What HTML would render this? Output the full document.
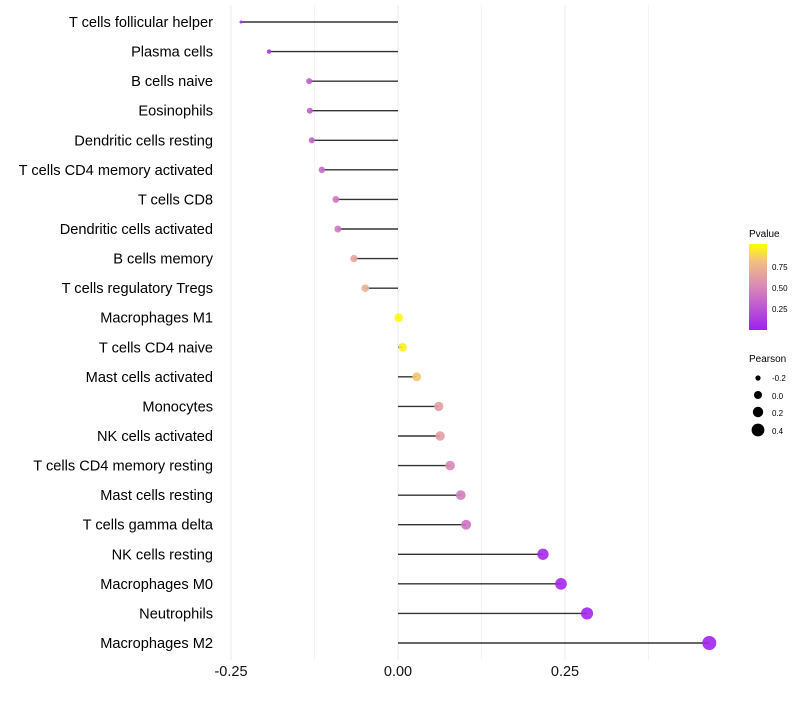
<!DOCTYPE html>
<html><head><meta charset="utf-8"><style>
body{margin:0;background:#fff;font-family:"Liberation Sans",sans-serif}
</style></head><body>
<svg id="chart" width="800" height="700" xmlns="http://www.w3.org/2000/svg" font-family="Liberation Sans, sans-serif">
<defs><linearGradient id="pg" x1="0" y1="1" x2="0" y2="0">
<stop offset="0" stop-color="#a020f0"/><stop offset="0.5" stop-color="#d888b8"/><stop offset="0.8" stop-color="#f2c080"/><stop offset="1" stop-color="#ffff00"/></linearGradient></defs>
<g id="grid"></g><g id="marks"></g><g id="labels"></g>
<g>
<text x="749" y="237" font-size="10">Pvalue</text>
<rect x="749" y="244" width="18" height="86" fill="url(#pg)"/>
<text x="772" y="270" font-size="8">0.75</text><text x="772" y="291" font-size="8">0.50</text><text x="772" y="312" font-size="8">0.25</text>
<text x="749" y="362" font-size="10">Pearson</text>
<circle cx="758" cy="378" r="2.6" fill="#000"/><text x="772" y="381" font-size="8">-0.2</text>
<circle cx="758" cy="395" r="4" fill="#000"/><text x="772" y="399" font-size="8">0.0</text>
<circle cx="758" cy="412" r="5.2" fill="#000"/><text x="772" y="416" font-size="8">0.2</text>
<circle cx="758" cy="430" r="6.4" fill="#000"/><text x="772" y="434" font-size="8">0.4</text>
</g>
</svg>
<script>
const categories=["T cells follicular helper","Plasma cells","B cells naive","Eosinophils","Dendritic cells resting","T cells CD4 memory activated","T cells CD8","Dendritic cells activated","B cells memory","T cells regulatory  Tregs ","Macrophages M1","T cells CD4 naive","Mast cells activated","Monocytes","NK cells activated","T cells CD4 memory resting","Mast cells resting","T cells gamma delta","NK cells resting","Macrophages M0","Neutrophils","Macrophages M2"];
const pearson=[-0.235,-0.193,-0.133,-0.132,-0.129,-0.114,-0.093,-0.090,-0.066,-0.049,0.001,0.007,0.028,0.061,0.063,0.078,0.094,0.102,0.217,0.244,0.283,0.466];
const pvalue=[0.03,0.12,0.3,0.3,0.32,0.35,0.42,0.42,0.65,0.72,0.99,0.95,0.82,0.62,0.62,0.5,0.45,0.4,0.05,0.04,0.03,0.02];
const xTicks=[-0.25,0,0.25];
const xTickLabels=["-0.25","0.00","0.25"];
const NS="http://www.w3.org/2000/svg";
const x=v=>398+v*668;
const y=i=>22+i*(621/21);
const rad=v=>Math.sqrt(Math.max(1.5,17.9+66.7*v));
function col(p){const st=[[0,[160,32,240]],[0.5,[216,136,184]],[0.8,[242,192,128]],[1,[255,255,0]]];
for(let k=1;k<st.length;k++){if(p<=st[k][0]){const t=(p-st[k-1][0])/(st[k][0]-st[k-1][0]);const a=st[k-1][1],b=st[k][1];return`rgb(${a.map((c,j)=>Math.round(c+(b[j]-c)*t)).join(",")})`;}}return"rgb(255,255,0)";}
function mk(t,a,par){const e=document.createElementNS(NS,t);for(const k in a)e.setAttribute(k,a[k]);document.getElementById(par).appendChild(e);return e;}
for(let v=-0.25;v<=0.376;v+=0.125){const g=mk("line",{x1:x(v),x2:x(v),y1:5,y2:660,stroke:"#ebebeb","stroke-width":Math.abs(v*8%2)<1e-6?1:0.6},"grid");

}
xTicks.forEach((v,i)=>{const t=mk("text",{x:x(v),y:676,"font-size":14.5,"text-anchor":"middle",fill:"#111"},"labels");t.textContent=xTickLabels[i];

});
categories.forEach((c,i)=>{
const t=mk("text",{x:213,y:y(i)+5,"font-size":14.6,"text-anchor":"end",fill:"#000","xml:space":"preserve"},"labels");t.textContent=c;


const l=mk("line",{x1:x(0),x2:x(pearson[i]),y1:y(i),y2:y(i),stroke:"#333","stroke-width":1.4},"marks");


const p=mk("circle",{cx:x(pearson[i]),cy:y(i),r:rad(pearson[i]),fill:col(pvalue[i]),"fill-opacity":0.9},"marks");


});
</script>
</body></html>
